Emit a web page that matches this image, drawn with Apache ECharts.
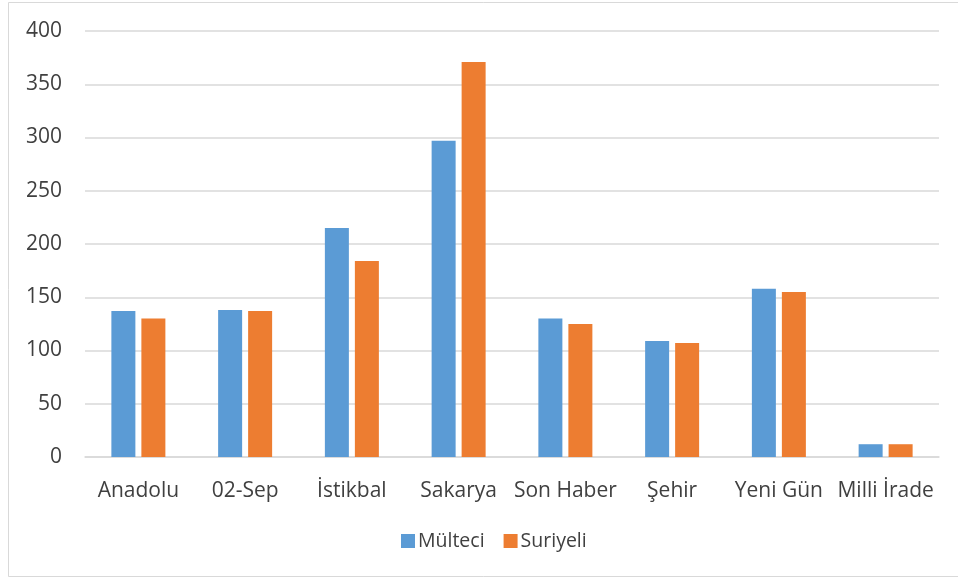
<!DOCTYPE html>
<html>
<head>
<meta charset="utf-8">
<script src="https://cdn.jsdelivr.net/npm/echarts@6/dist/echarts.min.js"></script>
<style>
html,body{margin:0;padding:0;background:#fff;}
#chart{width:958px;height:579px;}
</style>
</head>
<body>
<div id="chart"></div>
<script>
const categories = ['Anadolu', '02-Sep', 'İstikbal', 'Sakarya', 'Son Haber', 'Şehir', 'Yeni Gün', 'Milli İrade'];
const multeci = [137, 138, 215, 297, 130, 109, 158, 12];
const suriyeli = [130, 137, 184, 371, 125, 107, 155, 12];
const yTicks = [0, 50, 100, 150, 200, 250, 300, 350, 400];

const chart = echarts.init(document.getElementById('chart'));
const font = 'Open Sans, Noto Sans, sans-serif';
chart.setOption({
  animation: false,
  backgroundColor: '#fff',
  textStyle: { fontFamily: font },
  graphic: [{
    type: 'rect',
    shape: { x: 8.5, y: 2.5, width: 960, height: 574 },
    style: { fill: 'none', stroke: '#d9d9d9', lineWidth: 1 },
    silent: true
  }],
  grid: { left: 85, right: 19, top: 31, bottom: 122, containLabel: false },
  legend: {
    data: ['Mülteci', 'Suriyeli'],
    bottom: 23,
    left: 396,
    icon: 'rect',
    itemWidth: 14,
    itemHeight: 14,
    itemGap: 19,
    textStyle: { fontSize: 19.5, color: '#404040', fontFamily: font, padding: [0, 0, 0, -2] }
  },
  xAxis: {
    type: 'category',
    data: categories,
    axisLine: { lineStyle: { color: '#d9d9d9', width: 1.5 } },
    axisTick: { show: false },
    axisLabel: { fontSize: 21, color: '#404040', margin: 24, interval: 0 }
  },
  yAxis: {
    type: 'value',
    min: yTicks[0],
    max: yTicks[yTicks.length - 1],
    interval: 50,
    axisLine: { show: false },
    axisTick: { show: false },
    axisLabel: { fontSize: 21, color: '#404040', margin: 23 },
    splitLine: { lineStyle: { color: '#d9d9d9', width: 1.5 } }
  },
  series: [
    { name: 'Mülteci', type: 'bar', data: multeci, itemStyle: { color: '#5B9BD5' }, barWidth: 24, barGap: '25%' },
    { name: 'Suriyeli', type: 'bar', data: suriyeli, itemStyle: { color: '#ED7D31' }, barWidth: 24, barGap: '25%' }
  ]
});
</script>
</body>
</html>
